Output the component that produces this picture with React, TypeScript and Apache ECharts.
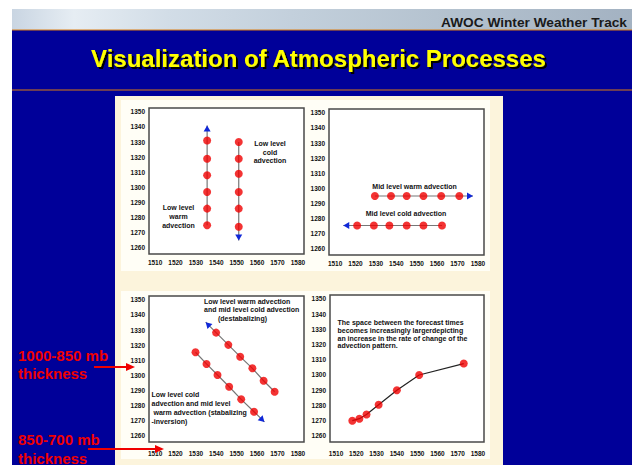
import React, { useEffect, useRef } from "react";
import * as echarts from "echarts";

// ---- data ----
const yTickLabels = [1260, 1270, 1280, 1290, 1300, 1310, 1320, 1330, 1340, 1350];
const xTickLabels = [1510, 1520, 1530, 1540, 1550, 1560, 1570, 1580];

// Panel 1: low level warm / cold advection
const tlWarmPts = [[1535.5, 1275], [1535.5, 1286], [1535.5, 1297], [1535.5, 1308], [1535.5, 1319], [1535.5, 1331]];
const tlWarmTip = [1535.5, 1341];
const tlColdPts = [[1551, 1330], [1551, 1319], [1551, 1309], [1551, 1297], [1551, 1286], [1551, 1274]];
const tlColdTip = [1551, 1265];

// Panel 2: mid level warm / cold advection
const trWarmPts = [[1529.5, 1295], [1537.4, 1295], [1545.1, 1295], [1553.3, 1295], [1562, 1295], [1570.9, 1295]];
const trWarmTip = [1577.6, 1295];
const trColdPts = [[1562.4, 1275.5], [1553.3, 1275.5], [1545.1, 1275.5], [1536.6, 1275.5], [1529, 1275.5], [1520.8, 1275.5]];
const trColdTip = [1514, 1275.5];

// Panel 3: destabilizing / stabilizing
const blUpperPts = [[1568.6, 1289.2], [1563.2, 1296.5], [1557.7, 1304.7], [1551.7, 1312.4], [1545.9, 1320.2], [1539.9, 1328.3]];
const blUpperTip = [1534.8, 1335.2];
const blLowerPts = [[1529.8, 1315.3], [1535.2, 1307.6], [1540.6, 1300.3], [1546.3, 1292.5], [1552.2, 1284.2], [1558.5, 1276]];
const blLowerTip = [1563.6, 1269.3];

// Panel 4: accelerating pattern
const brPts = [[1518, 1270], [1521.5, 1271.3], [1525, 1274], [1531, 1280.5], [1540, 1290], [1551, 1300], [1573, 1307.5]];

// ---- styling ----
const FONT = '"Liberation Sans", Arial, sans-serif';
const RED = "#f00000";
const ARROW_BLUE = "#1028d8";

const grids = [
  { left: 149, top: 108, width: 155, height: 146 },
  { left: 329, top: 109, width: 155, height: 146 },
  { left: 149, top: 296, width: 155, height: 146 },
  { left: 330, top: 295, width: 154, height: 147 },
];

function arrowSeries(i: number, tip: number[], from: number[]) {
  return {
    type: "custom",
    xAxisIndex: i,
    yAxisIndex: i,
    z: 5,
    data: [[tip[0], tip[1], from[0], from[1]]],
    encode: { x: 0, y: 1 },
    renderItem: (_p: any, api: any) => {
      const t = api.coord([api.value(0), api.value(1)]);
      const f = api.coord([api.value(2), api.value(3)]);
      const dx = t[0] - f[0];
      const dy = t[1] - f[1];
      const len = Math.hypot(dx, dy) || 1;
      const ux = dx / len;
      const uy = dy / len;
      const L = 6;
      const W = 3.5;
      const bx = t[0] - ux * L;
      const by = t[1] - uy * L;
      return {
        type: "polygon",
        shape: { points: [t, [bx - uy * W, by + ux * W], [bx + uy * W, by - ux * W]] },
        style: { fill: ARROW_BLUE },
      };
    },
  };
}

function shaft(i: number, pts: number[][], color: string, width: number) {
  return {
    type: "line",
    xAxisIndex: i,
    yAxisIndex: i,
    data: pts,
    symbol: "none",
    lineStyle: { color, width },
    z: 3,
  };
}

function dots(i: number, pts: number[][]) {
  return {
    type: "scatter",
    xAxisIndex: i,
    yAxisIndex: i,
    data: pts,
    symbol: "circle",
    symbolSize: 8,
    itemStyle: { color: RED },
    z: 4,
  };
}

function txt(x: number, y: number, text: string, opts: any = {}) {
  const align = opts.align || "left";
  const va = opts.va || "top";
  const style: any = {
    text,
    fill: opts.fill || "#111",
    font: opts.font || `bold 7px ${FONT}`,
    align,
    textAlign: align,
    verticalAlign: va,
    textVerticalAlign: va,
    lineHeight: opts.lineHeight || 8.5,
  };
  if (opts.shadow) {
    style.textShadowColor = "#000000";
    style.textShadowOffsetX = 2;
    style.textShadowOffsetY = 2;
    style.textShadowBlur = 0.5;
  }
  return { type: "text", x, y, z: 100, style };
}

export default function App() {
  const ref = useRef<HTMLDivElement>(null);

  useEffect(() => {
    if (!ref.current) return;
    const chart = echarts.init(ref.current, undefined, { renderer: "svg" });

    const xAxes = grids.map((_, i) => ({
      type: "value",
      gridIndex: i,
      min: 1507,
      max: 1583,
      axisLine: { show: false },
      axisTick: { show: false },
      splitLine: { show: false },
      axisLabel: {
        customValues: xTickLabels,
        formatter: (v: number) => String(v),
        fontSize: 6.5,
        fontWeight: "bold",
        fontFamily: FONT,
        color: "#111",
        margin: i < 2 ? 5 : 8,
      },
    }));
    const yAxes = grids.map((_, i) => ({
      type: "value",
      gridIndex: i,
      min: 1256,
      max: 1352.5,
      axisLine: { show: false },
      axisTick: { show: false },
      splitLine: { show: false },
      axisLabel: {
        customValues: yTickLabels,
        formatter: (v: number) => String(v),
        fontSize: 6.5,
        fontWeight: "bold",
        fontFamily: FONT,
        color: "#111",
        margin: 4,
      },
    }));

    const graphics: any[] = [
      { type: "rect", z: -20, shape: { x: 0, y: 0, width: 632, height: 465 }, style: { fill: "#ffffff" } },
      {
        type: "rect",
        z: -19,
        shape: { x: 12, y: 9, width: 620, height: 21 },
        style: {
          fill: new echarts.graphic.LinearGradient(0, 0, 1, 0, [
            { offset: 0, color: "#c9d5e2" },
            { offset: 0.1, color: "#e6edf3" },
            { offset: 0.25, color: "#d2dde7" },
            { offset: 0.45, color: "#c3d0dc" },
            { offset: 0.7, color: "#b4c2cf" },
            { offset: 1, color: "#a3b2c2" },
          ]),
        },
      },
      { type: "rect", z: -19, shape: { x: 12, y: 30, width: 620, height: 435 }, style: { fill: "#000099" } },
      { type: "line", z: -18, shape: { x1: 12, y1: 30, x2: 632, y2: 30 }, style: { stroke: "#d97a10", lineWidth: 1.2 } },
      { type: "line", z: -18, shape: { x1: 12, y1: 90, x2: 632, y2: 90 }, style: { stroke: "#d97a10", lineWidth: 1.2 } },
      { type: "rect", z: -18, shape: { x: 115, y: 96, width: 388, height: 369 }, style: { fill: "#fcf4dc" } },
      { type: "rect", z: -17, shape: { x: 121, y: 100, width: 187, height: 171 }, style: { fill: "#fffef6" } },
      { type: "rect", z: -17, shape: { x: 308, y: 100, width: 182, height: 171 }, style: { fill: "#fffef6" } },
      { type: "rect", z: -17, shape: { x: 121, y: 291, width: 187, height: 168 }, style: { fill: "#fffef6" } },
      { type: "rect", z: -17, shape: { x: 308, y: 291, width: 182, height: 168 }, style: { fill: "#fffef6" } },
      txt(627, 22.5, "AWOC Winter Weather Track", { align: "right", va: "middle", font: `bold 13.7px ${FONT}`, fill: "#1a1a1a" }),
      txt(318.5, 58.5, "Visualization of Atmospheric Processes", { align: "center", va: "middle", font: `bold 24px ${FONT}`, fill: "#ffff00", shadow: true }),
      txt(18, 355, "1000-850 mb", { va: "middle", font: `bold 15px ${FONT}`, fill: RED }),
      txt(18, 373, "thickness", { va: "middle", font: `bold 15px ${FONT}`, fill: RED }),
      txt(18, 439.5, "850-700 mb", { va: "middle", font: `bold 15px ${FONT}`, fill: RED }),
      txt(18, 458, "thickness", { va: "middle", font: `bold 15px ${FONT}`, fill: RED }),
      { type: "line", z: 100, shape: { x1: 94, y1: 367, x2: 128, y2: 367 }, style: { stroke: RED, lineWidth: 2 } },
      { type: "polygon", z: 100, shape: { points: [[135, 367], [126, 363], [126, 371]] }, style: { fill: RED } },
      { type: "line", z: 100, shape: { x1: 88, y1: 449, x2: 157, y2: 449 }, style: { stroke: RED, lineWidth: 2 } },
      { type: "polygon", z: 100, shape: { points: [[164, 449], [155, 445], [155, 453]] }, style: { fill: RED } },
      txt(270, 152, "Low level\ncold\nadvection", { align: "center", va: "middle", lineHeight: 8.8 }),
      txt(178.5, 216.5, "Low level\nwarm\nadvection", { align: "center", va: "middle", lineHeight: 9 }),
      txt(414.5, 186, "Mid level warm advection", { align: "center", va: "middle" }),
      txt(406, 213.5, "Mid level cold advection", { align: "center", va: "middle" }),
      txt(204, 297.5, "Low level warm advection\nand mid level cold advection", { lineHeight: 8.3 }),
      txt(218, 314.1, "(destabalizing)", { lineHeight: 8.3 }),
      txt(151.5, 390.5, "Low level cold\nadvection and mid level\n warm advection (stabalizing\n-inversion)", { lineHeight: 8.9 }),
      txt(337.5, 318.5, "The space between the forecast times\nbecomes increasingly largerdepicting\nan increase in the rate of change of the\nadvection pattern.", { lineHeight: 7.8 }),
    ];

    const series: any[] = [
      shaft(0, [...tlWarmPts, tlWarmTip], "#777777", 1.2),
      shaft(0, [...tlColdPts, tlColdTip], "#777777", 1.2),
      dots(0, tlWarmPts),
      dots(0, tlColdPts),
      arrowSeries(0, tlWarmTip, tlWarmPts[tlWarmPts.length - 1]),
      arrowSeries(0, tlColdTip, tlColdPts[tlColdPts.length - 1]),

      shaft(1, [...trWarmPts, trWarmTip], "#777777", 1.2),
      shaft(1, [...trColdPts, trColdTip], "#777777", 1.2),
      dots(1, trWarmPts),
      dots(1, trColdPts),
      arrowSeries(1, trWarmTip, trWarmPts[trWarmPts.length - 1]),
      arrowSeries(1, trColdTip, trColdPts[trColdPts.length - 1]),

      shaft(2, [...blUpperPts, blUpperTip], "#777777", 1.2),
      shaft(2, [...blLowerPts, blLowerTip], "#777777", 1.2),
      dots(2, blUpperPts),
      dots(2, blLowerPts),
      arrowSeries(2, blUpperTip, blUpperPts[blUpperPts.length - 1]),
      arrowSeries(2, blLowerTip, blLowerPts[blLowerPts.length - 1]),

      shaft(3, brPts, "#222222", 1.2),
      dots(3, brPts),
    ];

    chart.setOption({
      animation: false,
      backgroundColor: "#ffffff",
      grid: grids.map((g) => ({
        ...g,
        show: true,
        backgroundColor: "#ffffff",
        borderColor: "#4a4a4a",
        borderWidth: 1.5,
      })),
      xAxis: xAxes,
      yAxis: yAxes,
      graphic: { elements: graphics },
      series,
    });

    return () => chart.dispose();
  }, []);

  return (
    <div
      ref={ref}
      style={{ position: "absolute", left: 0, top: 0, width: 632, height: 465 }}
    />
  );
}
